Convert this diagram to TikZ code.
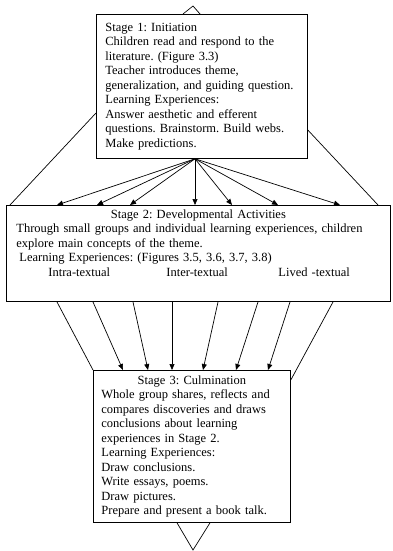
\documentclass[tikz,border=0pt]{standalone}
\usepackage{fontspec}
\setmainfont{Liberation Serif}
\usetikzlibrary{arrows.meta}
\frenchspacing

\begin{document}
\begin{tikzpicture}[
  x=1pt, y=-1pt,
  font=\fontsize{12.5}{14.5}\selectfont,
  stage/.style={draw=black, line width=0.8pt, anchor=north west, align=left, inner ysep=4pt},
  link/.style={draw=black, line width=0.7pt},
  arr/.style={link, -{Triangle[length=6pt,width=5pt]}}
]
\useasboundingbox (0,0) rectangle (392,551);
\node[stage, text width=193pt, inner xsep=9pt, minimum height=144pt] (s1) at (96,14)
  {Stage 1: Initiation\\Children read and respond to the\\literature. (Figure 3.3)\\
   Teacher introduces theme,\\generalization, and guiding question.\\Learning Experiences:\\
   Answer aesthetic and efferent\\questions. Brainstorm. Build webs.\\Make predictions.};
\node[stage, text width=364pt, inner xsep=10pt] (s2) at (6,205)
  {\makebox[\hsize]{Stage 2: Developmental Activities}\\
   Through small groups and individual learning experiences, children\\
   explore main concepts of the theme.\\
   \hspace*{3pt}Learning Experiences: (Figures 3.5, 3.6, 3.7, 3.8)\\
   \hspace*{32pt}\makebox[118pt][l]{Intra-textual}\makebox[112pt][l]{Inter-textual}Lived -textual\\[7pt]\mbox{}};
\node[stage, text width=181pt, inner xsep=8pt, minimum height=152pt] (s3) at (93,370)
  {\makebox[\hsize]{Stage 3: Culmination}\\Whole group shares, reflects and\\
   compares discoveries and draws\\conclusions about learning\\experiences in Stage 2.\\
   Learning Experiences:\\Draw conclusions.\\Write essays, poems.\\Draw pictures.\\
   Prepare and present a book talk.};
% into stage 1
\draw[link] (s1.north -| 183,0) -- (193,6) -- (s1.north -| 200,0);
% stage 1 to stage 2
\draw[link] (s1.west |- 0,113) -- (s2.north -| 10,0);
\draw[link] (s1.east |- 0,130) -- (s2.north -| 378,0);
\foreach \x in {57,97,130,195,232,278,340}
  \draw[arr] (s1.south -| 195,0) -- (s2.north -| \x,0);
% stage 2 to stage 3
\draw[link] (s2.south -| 57,0) -- (s3.north west);
\draw[arr] (s2.south -| 93,0) -- (s3.north -| 123,0);
\draw[arr] (s2.south -| 133,0) -- (s3.north -| 148,0);
\draw[arr] (s2.south -| 172,0) -- (s3.north -| 172,0);
\draw[arr] (s2.south -| 218,0) -- (s3.north -| 203,0);
\draw[arr] (s2.south -| 258,0) -- (s3.north -| 236,0);
\draw[arr] (s2.south -| 290,0) -- (s3.north -| 268,0);
\draw[link] (s2.south -| 333,0) -- (s3.east |- 0,380);
% out of stage 3
\draw[link] (s3.south -| 177,0) -- (193,550) -- (s3.south -| 210,0);
\end{tikzpicture}
\end{document}
